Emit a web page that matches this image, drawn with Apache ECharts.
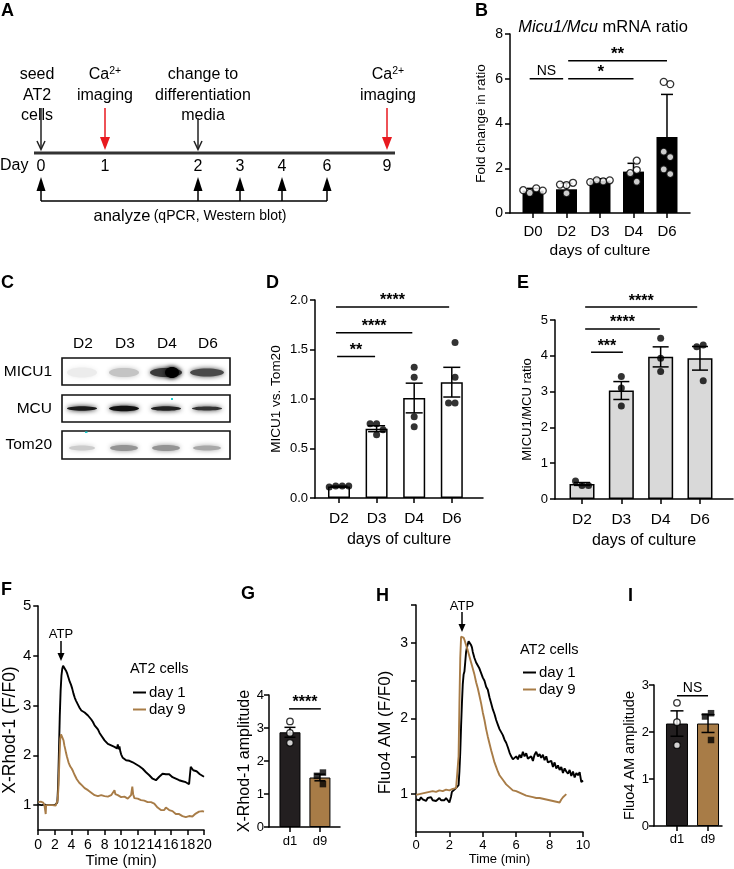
<!DOCTYPE html>
<html><head><meta charset="utf-8">
<script src="https://cdn.jsdelivr.net/npm/echarts@6/dist/echarts.min.js"></script>
<style>html,body{margin:0;padding:0;background:#fff}#c{width:734px;height:869px}</style>
</head><body><div id="c"></div>
<script>
// ---------------- DATA ----------------
// Panel A timeline
const timelineDays = ['0','1','2','3','4','6','9'];
const analyzeDays = ['0','2','3','4','6'];
// Panel B
const bCats = ['D0','D2','D3','D4','D6'];
const bMeans = [1.0, 1.06, 1.45, 1.85, 3.4];
const bErr = [0.1, 0.27, 0.08, 0.37, 1.9];
const bPoints = [[1.1,0.9,1.0,1.02],[1.25,1.27,1.35,0.88],[1.41,1.46,1.46,1.38],[2.34,1.92,1.78,1.4],[5.76,5.86,2.5,2.74,1.74,1.95]];
const bSig = [[-0.1,0.9,6.0,'NS'],[1.05,3.0,6.0,'*'],[1.05,4.0,6.8,'**']];
// Panel C blot lanes
const cLanes = ['D2','D3','D4','D6'];
const cRows = ['MICU1','MCU','Tom20'];
// Panel D
const dCats = ['D2','D3','D4','D6'];
const dMeans = [0.115, 0.70, 1.01, 1.17];
const dErr = [0.005, 0.03, 0.15, 0.15];
const dPoints = [[0.12,0.12,0.12,0.11],[0.75,0.75,0.64,0.69],[1.32,1.22,0.82,0.72],[1.57,1.22,0.96,0.96]];
const dSig = [[-0.08,2.93,1.93,'****'],[-0.08,1.95,1.67,'****'],[-0.05,0.96,1.43,'**']];
// Panel E
const eCats = ['D2','D3','D4','D6'];
const eMeans = [0.42, 3.03, 3.97, 3.93];
const eErr = [0.04, 0.25, 0.28, 0.33];
const ePoints = [[0.38,0.5,0.38],[3.42,3.1,2.6],[4.49,3.93,3.56],[4.3,4.25,3.3]];
const eSig = [[0.08,2.93,5.36,'****'],[0.08,1.98,4.75,'****'],[0.23,1.04,4.1,'***']];
// Panel F traces [time (min), F/F0]
const fDay1 = [[0,1.01],[0.2,0.99],[0.4,1.0],[0.6,0.98],[0.8,1.01],[1.0,0.99],[1.2,1.0],[1.4,0.98],[1.6,1.0],[1.8,0.99],[2.0,1.0],[2.2,1.01],[2.3,1.05],[2.4,1.4],[2.5,2.1],[2.6,2.8],[2.7,3.3],[2.8,3.6],[2.9,3.74],[3.0,3.8],[3.1,3.82],[3.2,3.76],[3.35,3.7],[3.5,3.64],[3.65,3.56],[3.8,3.48],[3.95,3.42],[4.1,3.34],[4.25,3.24],[4.4,3.16],[4.55,3.1],[4.7,3.05],[4.85,3.0],[5.0,2.95],[5.2,2.9],[5.4,2.88],[5.6,2.86],[5.8,2.83],[6.0,2.8],[6.2,2.76],[6.4,2.72],[6.6,2.67],[6.8,2.6],[7.0,2.56],[7.2,2.52],[7.4,2.45],[7.6,2.4],[7.8,2.36],[8.0,2.3],[8.2,2.26],[8.4,2.23],[8.6,2.24],[8.8,2.2],[9.0,2.19],[9.2,2.17],[9.4,2.2],[9.5,2.14],[9.6,2.22],[9.7,2.12],[9.8,2.18],[9.9,2.08],[10.0,2.02],[10.2,1.95],[10.4,1.92],[10.6,1.9],[10.8,1.92],[11.0,1.89],[11.2,1.87],[11.4,1.86],[11.6,1.84],[11.8,1.82],[12.0,1.8],[12.2,1.78],[12.4,1.75],[12.6,1.73],[12.8,1.7],[13.0,1.66],[13.2,1.63],[13.4,1.6],[13.6,1.57],[13.8,1.53],[14.0,1.52],[14.2,1.5],[14.4,1.54],[14.6,1.57],[14.8,1.6],[15.0,1.63],[15.2,1.64],[15.4,1.62],[15.6,1.6],[15.8,1.62],[16.0,1.58],[16.2,1.56],[16.4,1.55],[16.6,1.53],[16.8,1.52],[17.0,1.5],[17.2,1.5],[17.4,1.48],[17.6,1.47],[17.8,1.46],[18.0,1.44],[18.2,1.42],[18.3,1.6],[18.4,1.77],[18.5,1.76],[18.7,1.7],[18.9,1.66],[19.1,1.68],[19.3,1.65],[19.5,1.62],[19.7,1.6],[19.9,1.58],[20.0,1.57]];
const fDay9 = [[0,1.06],[0.15,1.05],[0.3,1.07],[0.45,1.04],[0.6,1.05],[0.75,1.0],[0.85,0.96],[0.9,0.82],[0.95,1.0],[1.1,0.98],[1.3,1.0],[1.5,0.99],[1.7,1.0],[1.9,0.98],[2.1,0.99],[2.25,0.97],[2.35,1.1],[2.45,1.4],[2.55,1.9],[2.65,2.33],[2.75,2.42],[2.85,2.44],[2.95,2.38],[3.05,2.3],[3.15,2.2],[3.25,2.13],[3.35,2.05],[3.45,1.98],[3.55,1.92],[3.65,1.86],[3.75,1.82],[3.85,1.78],[3.95,1.76],[4.05,1.73],[4.2,1.68],[4.35,1.62],[4.5,1.58],[4.65,1.52],[4.8,1.48],[4.95,1.45],[5.1,1.42],[5.25,1.4],[5.4,1.37],[5.6,1.34],[5.8,1.36],[6.0,1.3],[6.2,1.27],[6.4,1.25],[6.6,1.23],[6.8,1.2],[7.0,1.22],[7.2,1.18],[7.4,1.17],[7.6,1.2],[7.8,1.16],[8.0,1.18],[8.2,1.15],[8.4,1.17],[8.6,1.16],[8.8,1.2],[9.0,1.24],[9.2,1.3],[9.3,1.22],[9.5,1.26],[9.6,1.2],[9.8,1.18],[10.0,1.16],[10.2,1.14],[10.4,1.17],[10.6,1.14],[10.8,1.13],[11.0,1.16],[11.2,1.2],[11.35,1.37],[11.45,1.22],[11.6,1.14],[11.8,1.12],[12.0,1.13],[12.2,1.1],[12.4,1.1],[12.6,1.08],[12.8,1.09],[13.0,1.07],[13.2,1.06],[13.4,1.05],[13.6,1.06],[13.8,1.04],[14.0,1.03],[14.2,1.0],[14.4,0.95],[14.6,0.93],[14.8,0.9],[15.0,0.87],[15.2,0.9],[15.4,0.95],[15.6,0.93],[15.8,0.9],[16.0,0.94],[16.2,0.88],[16.4,0.85],[16.6,0.82],[16.8,0.8],[17.0,0.82],[17.2,0.79],[17.4,0.78],[17.6,0.8],[17.8,0.76],[18.0,0.74],[18.2,0.78],[18.4,0.8],[18.6,0.77],[18.8,0.8],[19.0,0.83],[19.2,0.85],[19.4,0.87],[19.6,0.85],[19.8,0.88],[20.0,0.87]];
// Panel G
const gCats = ['d1','d9'];
const gMeans = [2.87, 1.5];
const gErr = [0.15, 0.1];
const gPoints = [[3.2,2.85,2.55],[1.65,1.55,1.3]];
const gSig = [[-0.03,1.03,3.58,'****']];
// Panel H traces
const hDay1 = [[0,0.93],[0.1,0.95],[0.2,0.92],[0.3,0.96],[0.4,0.93],[0.5,0.94],[0.6,0.91],[0.7,0.95],[0.8,0.93],[0.9,0.96],[1.0,0.92],[1.1,0.94],[1.2,0.91],[1.3,0.93],[1.4,0.95],[1.5,0.92],[1.6,0.94],[1.7,0.92],[1.8,0.95],[1.9,0.93],[2.0,0.89],[2.05,0.88],[2.1,0.97],[2.15,1.03],[2.25,1.05],[2.35,1.07],[2.45,1.09],[2.55,1.12],[2.6,1.3],[2.65,1.55],[2.7,1.9],[2.75,2.2],[2.8,2.45],[2.85,2.58],[2.9,2.62],[2.95,2.75],[3.0,2.88],[3.05,2.94],[3.1,2.98],[3.15,3.02],[3.2,3.03],[3.25,3.0],[3.3,2.97],[3.35,2.94],[3.4,2.88],[3.5,2.8],[3.6,2.74],[3.7,2.72],[3.8,2.66],[3.9,2.6],[4.0,2.54],[4.1,2.5],[4.2,2.42],[4.3,2.38],[4.4,2.28],[4.5,2.2],[4.6,2.12],[4.7,2.06],[4.8,1.98],[4.9,1.92],[5.0,1.86],[5.1,1.82],[5.2,1.78],[5.3,1.72],[5.4,1.68],[5.5,1.62],[5.6,1.55],[5.7,1.5],[5.8,1.46],[5.9,1.44],[6.0,1.5],[6.1,1.46],[6.2,1.52],[6.3,1.48],[6.4,1.56],[6.5,1.5],[6.6,1.54],[6.7,1.47],[6.8,1.45],[6.9,1.5],[7.0,1.44],[7.1,1.52],[7.2,1.56],[7.3,1.5],[7.4,1.53],[7.5,1.48],[7.6,1.52],[7.7,1.45],[7.8,1.5],[7.9,1.42],[8.0,1.4],[8.1,1.44],[8.2,1.36],[8.3,1.42],[8.4,1.34],[8.5,1.38],[8.6,1.32],[8.7,1.36],[8.8,1.28],[8.9,1.34],[9.0,1.3],[9.1,1.27],[9.2,1.32],[9.3,1.24],[9.4,1.3],[9.5,1.22],[9.6,1.28],[9.7,1.25],[9.8,1.29],[9.9,1.16],[10.0,1.18]];
const hDay9 = [[0,0.99],[0.2,1.0],[0.4,1.01],[0.6,1.02],[0.8,1.03],[1.0,1.04],[1.2,1.03],[1.4,1.05],[1.6,1.04],[1.8,1.06],[2.0,1.05],[2.2,1.07],[2.4,1.08],[2.5,1.1],[2.55,1.5],[2.6,2.2],[2.65,2.8],[2.7,3.08],[2.75,3.1],[2.8,3.08],[2.85,3.07],[2.9,3.04],[3.0,2.97],[3.1,2.9],[3.2,2.82],[3.3,2.74],[3.4,2.66],[3.5,2.58],[3.6,2.48],[3.7,2.4],[3.8,2.3],[3.9,2.2],[4.0,2.08],[4.1,1.98],[4.2,1.86],[4.3,1.76],[4.4,1.67],[4.5,1.58],[4.6,1.5],[4.7,1.42],[4.8,1.36],[4.9,1.3],[5.0,1.25],[5.2,1.19],[5.4,1.13],[5.6,1.09],[5.8,1.05],[6.0,1.04],[6.2,1.02],[6.4,1.0],[6.6,0.98],[6.8,0.97],[7.0,0.96],[7.2,0.95],[7.4,0.95],[7.6,0.94],[7.8,0.93],[8.0,0.92],[8.2,0.91],[8.4,0.9],[8.5,0.92],[8.6,0.89],[8.7,0.93],[8.8,0.96],[8.9,0.98],[9.0,1.0]];
// Panel I
const iCats = ['d1','d9'];
const iMeans = [2.18, 2.18];
const iErr = [0.27, 0.19];
const iPoints = [[2.62,2.21,1.72],[2.4,2.33,1.83]];
const iSig = [[0,1,2.77,'NS']];

// ---------------- HELPERS ----------------
const FONT = "'Liberation Sans', Arial, Helvetica, sans-serif";
const BROWN = '#a87c47';
const DARK = '#231f20';
const RED = '#e8191f';
const AXL = {show:true, onZero:false, lineStyle:{color:'#000', width:1.5}};
const TICK = {show:true, length:5, inside:false, lineStyle:{color:'#000', width:1.5}};

function catX(gi, min, max, cats, fs, margin, name, nameGap, nfs){
  const idx = cats.map((c,i)=>i);
  return {type:'value', gridIndex:gi, min, max, axisLine:AXL, splitLine:{show:false},
    axisTick:Object.assign({}, TICK, {customValues:idx}),
    axisLabel:{customValues:idx, formatter:v=>cats[Math.round(v)], fontSize:fs, color:'#000', fontFamily:FONT, margin},
    name:name||'', nameLocation:'middle', nameGap:nameGap||0,
    nameTextStyle:{fontSize:nfs||14, color:'#000', fontFamily:FONT}};
}
function valAxis(gi, min, max, opt){
  const a = {type:'value', gridIndex:gi, min, max, axisLine:AXL, splitLine:{show:false},
    axisTick:Object.assign({}, TICK), 
    axisLabel:{fontSize:opt.fs, color:'#000', fontFamily:FONT, margin:opt.margin||6, formatter:opt.fmt},
    name:opt.name||'', nameLocation:'middle', nameGap:opt.nameGap||0,
    nameTextStyle:{fontSize:opt.nfs||13, color:'#000', fontFamily:FONT, padding:opt.npad||0}};
  if(opt.interval!=null) a.interval = opt.interval;
  if(opt.ticks){ a.axisTick.customValues = opt.ticks; a.axisLabel.customValues = opt.labels||opt.ticks; }
  if(opt.fmt==null) delete a.axisLabel.formatter;
  return a;
}
function swarm(vals, pxPerUnit, s){
  const placed = [];
  const cands = [0,-1,1,-2,2,-3,3];
  vals.forEach(v=>{
    const y = v*pxPerUnit;
    for(const c of cands){
      const x = c*s;
      if(placed.every(p=>Math.hypot(p.x-x, p.y-y) >= s*0.95)){ placed.push({x,y}); break; }
    }
  });
  const xs = placed.map(p=>p.x);
  const sh = -(Math.max(...xs)+Math.min(...xs))/2;
  return placed.map(p=>p.x+sh);
}
function barSeries(ai, means, colors, width, border){
  return {type:'bar', xAxisIndex:ai, yAxisIndex:ai, barWidth:width, z:2, silent:true,
    data: means.map((m,i)=>({value:[i,m], itemStyle:{color:colors[i%colors.length], borderColor:'#000', borderWidth:border}}))};
}
function errSeries(ai, means, errs, cap){
  return {type:'custom', xAxisIndex:ai, yAxisIndex:ai, z:3, silent:true, clip:false,
    encode:{x:0, y:[1,2]},
    data: means.map((m,i)=>[i, m-errs[i], m+errs[i]]),
    renderItem(p, api){
      const lo = api.coord([api.value(0), api.value(1)]);
      const hi = api.coord([api.value(0), api.value(2)]);
      const st = {stroke:'#000', lineWidth:1.5};
      return {type:'group', children:[
        {type:'line', shape:{x1:lo[0],y1:lo[1],x2:hi[0],y2:hi[1]}, style:st},
        {type:'line', shape:{x1:hi[0]-cap/2,y1:hi[1],x2:hi[0]+cap/2,y2:hi[1]}, style:st},
        {type:'line', shape:{x1:lo[0]-cap/2,y1:lo[1],x2:lo[0]+cap/2,y2:lo[1]}, style:st}
      ]};
    }};
}
function ptSeries(ai, groups, pxPerUnit, size, styles){
  const data = [];
  groups.forEach((g,i)=>{
    const offs = swarm(g, pxPerUnit, size-0.5);
    const st = styles[i%styles.length];
    g.forEach((v,k)=>data.push({value:[i,v], symbol:st.symbol, symbolOffset:[offs[k],0],
      itemStyle:{color:st.fill, borderColor:st.stroke, borderWidth:st.bw}}));
  });
  return {type:'scatter', xAxisIndex:ai, yAxisIndex:ai, z:4, silent:true, symbolSize:size, data};
}
function sigSeries(ai, sig, fs){
  return {type:'custom', xAxisIndex:ai, yAxisIndex:ai, z:6, silent:true, clip:false,
    encode:{x:[0,1], y:2},
    data: sig.map(s=>[s[0], s[1], s[2]]),
    renderItem(p, api){
      const a = api.coord([api.value(0), api.value(2)]);
      const b = api.coord([api.value(1), api.value(2)]);
      const lab = sig[p.dataIndex][3];
      const star = lab.indexOf('*')>=0;
      return {type:'group', children:[
        {type:'line', shape:{x1:a[0],y1:a[1],x2:b[0],y2:b[1]}, style:{stroke:'#000', lineWidth:1.5}},
        {type:'text', x:(a[0]+b[0])/2, y:a[1]-(star?-2:1), style:{text:lab, align:'center', verticalAlign:'bottom',
          fontSize: star?fs+3:fs, fontWeight: star?'bold':'normal', fontFamily:FONT, fill:'#000'}}
      ]};
    }};
}
function lineSeries(ai, name, data, color){
  return {type:'line', name, xAxisIndex:ai, yAxisIndex:ai, data, showSymbol:false, symbol:'none', silent:true,
    lineStyle:{color, width:1.9}, itemStyle:{color}, z:3};
}

// ---------------- GRAPHICS (panel letters, A timeline, C blot, annotations) ----------------
const G = [];
function txt(x, y, text, fs, opt){
  opt = opt||{};
  G.push({type:'text', x, y, style:Object.assign({text, fontSize:fs, fontFamily:FONT, fill:'#000',
    align:opt.align||'center', verticalAlign:opt.va||'middle', fontWeight:opt.fw||'normal'}, opt.extra||{})});
}
function ln(x1,y1,x2,y2,w,c){ G.push({type:'line', shape:{x1,y1,x2,y2}, style:{stroke:c||'#000', lineWidth:w||1.5}}); }
// panel letters
[['A',1,11],['B',475,11],['C',1,283],['D',266,283],['E',517,283],['F',1,590],['G',241,594],['H',376,596],['I',628,596]]
  .forEach(l=>txt(l[1], l[2], l[0], 18, {align:'left', fw:'bold'}));

// Panel A timeline layout
const tlX = [41,105,198,240,282,327,387];
const tlY = 153;
const AFS = 16;
ln(34, tlY, 395, tlY, 3, '#333');
txt(0, 166, 'Day', AFS, {align:'left'});
timelineDays.forEach((d,i)=>txt(tlX[i], 167, d, AFS));
// top annotations
const topNotes = [
  {day:'0', lines:['seed','AT2','cells'], color:'#000', top:108},
  {day:'1', lines:['Ca²⁺','imaging'], color:RED, top:108},
  {day:'2', lines:['change to','differentiation','media'], color:'#000', top:118},
  {day:'9', lines:['Ca²⁺','imaging'], color:RED, top:108}
];
topNotes.forEach(n=>{
  const x = tlX[timelineDays.indexOf(n.day)];
  const cx = n.day==='0'?37:(n.day==='2'?203:(n.day==='9'?388:x));
  n.lines.forEach((s,k)=>{
    if(s.indexOf('Ca')===0){
      G.push({type:'text', x:cx, y:75+k*20.5, style:{text:'{a|Ca}{s|2+}', align:'center', verticalAlign:'middle', fill:'#000', fontFamily:FONT,
        rich:{a:{fontSize:AFS, fontFamily:FONT, fill:'#000'}, s:{fontSize:10.5, fontFamily:FONT, fill:'#000', verticalAlign:'top', padding:[0,0,8,0]}}}});
    } else txt(cx, 75+k*20.5, s, AFS);
  });
  if(n.color===RED){
    ln(x, n.top, x, 139, 1.5, RED);
    G.push({type:'polygon', shape:{points:[[x-5,137],[x+5,137],[x,150]]}, style:{fill:RED}});
  } else {
    ln(x, n.top, x, 149, 1.5, '#222');
    G.push({type:'polyline', shape:{points:[[x-4,141],[x,149.5],[x+4,141]]}, style:{stroke:'#222', lineWidth:1.5, fill:null}});
  }
});
// bottom analyze arrows
const anX = analyzeDays.map(d=>tlX[timelineDays.indexOf(d)]);
anX.forEach(x=>{
  ln(x, 188, x, 201, 1.5);
  G.push({type:'polygon', shape:{points:[[x-4.5,191],[x+4.5,191],[x,177]]}, style:{fill:'#000'}});
});
ln(anX[0], 201, anX[anX.length-1], 201, 1.5);
G.push({type:'text', x:190, y:216, style:{text:'{a|analyze} {b|(qPCR, Western blot)}', align:'center', verticalAlign:'middle',
  fontFamily:FONT, fill:'#000', rich:{a:{fontSize:16.5, fontFamily:FONT, fill:'#000'}, b:{fontSize:14, fontFamily:FONT, fill:'#000'}}}});

// Panel B title
G.push({type:'text', x:603, y:27, style:{text:'{i|Micu1/Mcu} mRNA ratio', align:'center', verticalAlign:'middle', fontFamily:FONT, fill:'#000',
  fontSize:16.5, rich:{i:{fontStyle:'italic', fontSize:16.5, fontFamily:FONT, fill:'#000'}}}});

// Panel C blot
const laneX = [83,125,167,208];
cLanes.forEach((l,i)=>txt(laneX[i], 344, l, 15.5));
const rowBox = [[358,27],[395,27],[431,28]];
cRows.forEach((r,i)=>{
  txt(52, rowBox[i][0]+rowBox[i][1]/2, r, 15.5, {align:'right'});
});
// bands: [row, lane, intensity colour, rx, ry, dx]
const bands = [
  [0,0,'#ececec',15,5,0],[0,1,'#c4c4c4',15,4.5,0],[0,2,'#3a3a3a',16,4.5,0],[0,2,'#000',7,5.5,6],[0,3,'#4a4a4a',17,4,0],
  [1,0,'#1a1a1a',15,2.2,0],[1,1,'#111',15,2.8,0],[1,2,'#222',15,2.3,0],[1,3,'#333',15,2,0],
  [2,0,'#cccccc',13,2.5,0],[2,1,'#949494',14,3,0],[2,2,'#949494',14,3,0],[2,3,'#a8a8a8',14,2.5,0]
];
bands.forEach(b=>{
  const y = rowBox[b[0]][0] + rowBox[b[0]][1]/2 + (b[0]===0?1:(b[0]===1?0:3));
  G.push({type:'ellipse', z:1, shape:{cx:laneX[b[1]]-1+b[5], cy:y, rx:b[3], ry:b[4]},
    style:{fill:b[2], shadowBlur:5, shadowColor:b[2]}});
});
rowBox.forEach(r=>G.push({type:'rect', z:2, shape:{x:62, y:r[0], width:168, height:r[1]}, style:{fill:'none', stroke:'#111', lineWidth:1.6}}));
G.push({type:'rect', z:3, shape:{x:171, y:398, width:2, height:2}, style:{fill:'#1ad0d0'}});
G.push({type:'rect', z:3, shape:{x:85, y:431.5, width:2.5, height:1.5}, style:{fill:'#1ad0d0'}});

// ATP annotations + legend headers
txt(61, 634, 'ATP', 13);
ln(61, 641, 61, 655, 1.5);
G.push({type:'polygon', shape:{points:[[57.5,653],[64.5,653],[61,661]]}, style:{fill:'#000'}});
txt(130, 669, 'AT2 cells', 14.5, {align:'left'});
txt(462, 606, 'ATP', 13);
ln(462, 612, 462, 626, 1.5);
G.push({type:'polygon', shape:{points:[[458.5,624],[465.5,624],[462,632]]}, style:{fill:'#000'}});
txt(520, 650, 'AT2 cells', 14.5, {align:'left'});

// ---------------- OPTION ----------------
const grids = [
  {left:510, top:34, width:180, height:179},   // 0 B
  {left:315, top:300, width:168, height:198},  // 1 D
  {left:555, top:320, width:178, height:179},  // 2 E
  {left:36, top:606, width:168, height:226},   // 3 F
  {left:269, top:695, width:71, height:132},   // 4 G
  {left:416, top:605, width:167, height:227},  // 5 H
  {left:654, top:685, width:68, height:141}    // 6 I
];
const xAxes = [
  catX(0, -0.687, 4.687, bCats, 15, 11, 'days of culture', 30, 15.5),
  catX(1, -0.638, 3.83, dCats, 15.5, 13, 'days of culture', 34, 16),
  catX(2, -0.687, 3.84, eCats, 15.5, 13, 'days of culture', 34, 16),
  valAxis(3, 0, 20, {interval:2, fs:14, margin:8, name:'Time (min)', nameGap:23, nfs:15}),
  catX(4, -0.7, 1.67, gCats, 13, 8),
  valAxis(5, 0, 10, {interval:2, fs:13, margin:7, name:'Time (min)', nameGap:20, nfs:13}),
  catX(6, -0.74, 1.45, iCats, 13, 7)
];
const yAxes = [
  valAxis(0, 0, 8, {interval:2, fs:14, margin:7, name:'Fold change in ratio', nameGap:22, nfs:13.5}),
  valAxis(1, 0, 2, {interval:0.5, fs:13, margin:7, name:'MICU1 vs. Tom20', nameGap:32, nfs:13.5, fmt:v=>v.toFixed(1)}),
  valAxis(2, 0, 5, {interval:1, fs:13, margin:7, name:'MICU1/MCU ratio', nameGap:21, nfs:13}),
  valAxis(3, 0.5, 5, {ticks:[1,2,3,4,5], fs:15, margin:7, name:'X-Rhod-1 (F/F0)', nameGap:16, nfs:17.5, npad:[0,24,0,0]}),
  valAxis(4, 0, 4, {interval:1, fs:13, margin:5, name:'X-Rhod-1 amplitude', nameGap:14, nfs:16}),
  valAxis(5, 0.5, 3.5, {ticks:[1,1.5,2,2.5,3,3.5], labels:[1,2,3], fs:14, margin:8, name:'Fluo4 AM (F/F0)', nameGap:22, nfs:17, npad:[0,28,0,0]}),
  valAxis(6, 0, 3, {interval:1, fs:13, margin:5, name:'Fluo4 AM amplitude', nameGap:13, nfs:14.5})
];
const openC = {symbol:'circle', fill:'#fff', stroke:'#000', bw:1.3};
const fillC = {symbol:'circle', fill:'#000', stroke:'#000', bw:0};
const fillS = {symbol:'rect', fill:'#000', stroke:'#000', bw:0};
const series = [
  barSeries(0, bMeans, ['#000'], 21, 0), errSeries(0, bMeans, bErr, 12), ptSeries(0, bPoints, 22.4, 7, [openC]), sigSeries(0, bSig, 14),
  barSeries(1, dMeans, ['#fff'], 22, 1.5), errSeries(1, dMeans, dErr, 17), ptSeries(1, dPoints, 99, 7, [fillC]), sigSeries(1, dSig, 13),
  barSeries(2, eMeans, ['#d9d9d9'], 25, 1.5), errSeries(2, eMeans, eErr, 16), ptSeries(2, ePoints, 35.8, 7, [fillC]), sigSeries(2, eSig, 13),
  lineSeries(3, 'day 1', fDay1, '#000'), lineSeries(3, 'day 9', fDay9, BROWN),
  barSeries(4, gMeans, [DARK, BROWN], 21, 1), errSeries(4, gMeans, gErr, 11), ptSeries(4, gPoints, 33, 6.5, [openC, fillS]), sigSeries(4, gSig, 13),
  lineSeries(5, 'day 1', hDay1, '#000'), lineSeries(5, 'day 9', hDay9, BROWN),
  barSeries(6, iMeans, [DARK, BROWN], 22, 1), errSeries(6, iMeans, iErr, 13), ptSeries(6, iPoints, 47, 6.5, [openC, fillS]), sigSeries(6, iSig, 14)
];
const legendBase = {orient:'vertical', icon:'rect', itemWidth:13, itemHeight:2, itemGap:2, selectedMode:false,
  textStyle:{fontSize:15, color:'#000', fontFamily:FONT, padding:[0,0,0,-2]}, data:['day 1','day 9']};
const option = {
  animation:false,
  backgroundColor:'#fff',
  textStyle:{fontFamily:FONT},
  grid:grids, xAxis:xAxes, yAxis:yAxes, series,
  legend:[Object.assign({left:128, top:680}, legendBase), Object.assign({left:518, top:660}, legendBase)],
  graphic:{elements:G}
};
const chart = echarts.init(document.getElementById('c'), null, {renderer:'canvas'});
chart.setOption(option);
</script></body></html>
